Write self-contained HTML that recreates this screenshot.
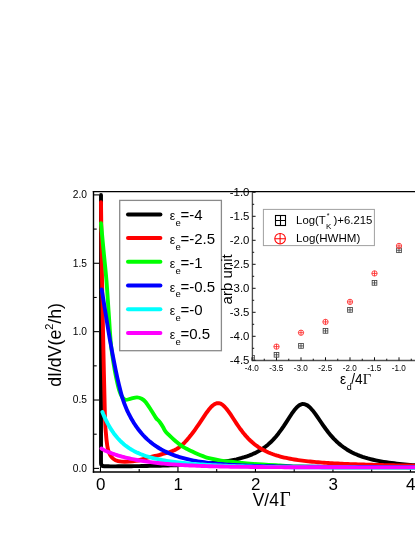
<!DOCTYPE html>
<html><head><meta charset="utf-8"><title>dI/dV</title>
<style>html,body{margin:0;padding:0;background:#fff;}body{width:415px;height:537px;position:relative;overflow:hidden;font-family:"Liberation Sans",sans-serif;}</style>
</head><body>
<svg width="415" height="537" viewBox="0 0 415 537" style="position:absolute;left:0;top:0;transform:translateZ(0);will-change:transform">
<rect x="0" y="0" width="415" height="537" fill="#fff"/>
<g stroke="#000" stroke-width="1.4" fill="none">
<path d="M93.50,190.90 V472.70"/>
<path d="M92.80,191.60 H420"/>
<path d="M92.80,472.00 H420"/>
</g>
<g stroke="#000" stroke-width="1.1" fill="none">
<path d="M93.50,468.40 h5.50"/>
<path d="M93.50,434.21 h3.20"/>
<path d="M93.50,400.02 h5.50"/>
<path d="M93.50,365.84 h3.20"/>
<path d="M93.50,331.65 h5.50"/>
<path d="M93.50,297.46 h3.20"/>
<path d="M93.50,263.27 h5.50"/>
<path d="M93.50,229.09 h3.20"/>
<path d="M93.50,194.90 h5.50"/>
<path d="M100.45,472.00 v-5.00"/>
<path d="M139.20,472.00 v-3.00"/>
<path d="M177.95,472.00 v-5.00"/>
<path d="M216.70,472.00 v-3.00"/>
<path d="M255.45,472.00 v-5.00"/>
<path d="M294.20,472.00 v-3.00"/>
<path d="M332.95,472.00 v-5.00"/>
<path d="M371.70,472.00 v-3.00"/>
<path d="M410.45,472.00 v-5.00"/>
</g>
<g fill="none" stroke-width="3.9" stroke-linecap="round" stroke-linejoin="round">
<path d="M101,195 L101,463.2 Q101,466.2 104.2,466.2 L108.28,466.25 L110.28,466.39 L112.90,466.37 L115.53,466.35 L118.16,466.32 L120.79,466.30 L123.42,466.28 L126.05,466.25 L128.67,466.22 L131.30,466.19 L133.93,466.16 L136.56,466.12 L139.19,466.08 L141.81,466.04 L144.44,466.00 L147.07,465.95 L149.70,465.91 L152.33,465.86 L154.96,465.80 L157.58,465.74 L160.21,465.68 L162.84,465.61 L165.47,465.54 L168.10,465.47 L170.72,465.39 L173.35,465.30 L175.98,465.21 L178.61,465.11 L181.24,465.01 L183.87,464.89 L186.49,464.77 L189.12,464.64 L191.75,464.50 L194.38,464.35 L197.01,464.19 L199.63,464.02 L202.26,463.83 L204.89,463.63 L207.52,463.41 L210.15,463.18 L212.78,462.92 L215.40,462.65 L218.03,462.35 L220.66,462.02 L223.29,461.66 L225.92,461.27 L228.54,460.84 L231.17,460.37 L233.80,459.85 L236.43,459.29 L239.06,458.66 L241.69,457.97 L244.31,457.20 L246.94,456.34 L249.57,455.39 L252.20,454.33 L254.83,453.15 L257.46,451.82 L260.08,450.33 L262.71,448.66 L265.34,446.78 L267.97,444.67 L270.60,442.31 L273.22,439.66 L275.85,436.72 L278.48,433.46 L281.11,429.90 L283.74,426.08 L286.37,422.06 L288.99,417.96 L291.62,413.97 L294.25,410.31 L296.88,407.26 L299.51,405.10 L302.13,404.04 L304.76,404.17 L307.39,405.37 L310.02,407.53 L312.65,410.44 L315.28,413.89 L317.90,417.64 L320.53,421.51 L323.16,425.33 L325.79,429.00 L328.42,432.46 L331.04,435.65 L333.67,438.57 L336.30,441.22 L338.93,443.62 L341.56,445.78 L344.19,447.72 L346.81,449.46 L349.44,451.02 L352.07,452.43 L354.70,453.69 L357.33,454.83 L359.95,455.86 L362.58,456.80 L365.21,457.64 L367.84,458.41 L370.47,459.11 L373.10,459.75 L375.72,460.33 L378.35,460.87 L380.98,461.36 L383.61,461.81 L386.24,462.23 L388.87,462.62 L391.49,462.97 L394.12,463.30 L396.75,463.61 L399.38,463.90 L402.01,464.17 L404.63,464.42 L407.26,464.65 L409.89,464.87 L412.52,465.08 L415.15,465.27 L417.78,465.46 L420.40,465.63 L423.03,465.79 L425.66,465.95" stroke="#000000"/>
<path d="M101.00,202.30 C101.17,214.92 101.60,253.38 102.00,278.00 C102.40,302.62 102.92,327.17 103.40,350.00 C103.88,372.83 104.50,401.33 104.90,415.00 C105.30,428.67 105.40,426.83 105.80,432.00 C106.20,437.17 106.77,442.57 107.30,446.00 C107.83,449.43 108.30,450.77 109.00,452.60 C109.70,454.43 110.42,455.73 111.50,457.00 C112.58,458.27 113.80,459.43 115.50,460.20 C117.20,460.97 119.45,461.37 121.70,461.60 C123.95,461.83 126.62,461.72 129.00,461.60 C131.38,461.48 133.83,461.25 136.00,460.90 C138.17,460.55 140.17,460.02 142.00,459.50 C143.83,458.98 145.39,458.20 147.00,457.75 L147.00,457.75 L148.99,457.36 L150.98,456.94 L152.97,456.49 L154.96,456.02 L156.95,455.53 L158.94,455.02 L160.93,454.50 L162.92,453.97 L164.91,453.44 L166.90,452.88 L168.89,452.28 L170.89,451.62 L172.88,450.85 L174.87,449.94 L176.86,448.84 L178.85,447.53 L180.84,445.99 L182.83,444.24 L184.82,442.27 L186.81,440.12 L188.80,437.80 L190.79,435.34 L192.78,432.75 L194.77,430.04 L196.76,427.23 L198.75,424.32 L200.74,421.34 L202.73,418.33 L204.72,415.34 L206.71,412.47 L208.70,409.80 L210.69,407.43 L212.68,405.50 L214.67,404.08 L216.66,403.28 L218.66,403.14 L220.65,403.68 L222.64,404.89 L224.63,406.68 L226.62,408.96 L228.61,411.60 L230.60,414.48 L232.59,417.50 L234.58,420.56 L236.57,423.58 L238.56,426.50 L240.55,429.30 L242.54,431.93 L244.53,434.40 L246.52,436.69 L248.51,438.81 L250.50,440.76 L252.49,442.55 L254.48,444.19 L256.47,445.70 L258.46,447.08 L260.45,448.34 L262.44,449.50 L264.44,450.57 L266.43,451.54 L268.42,452.44 L270.41,453.27 L272.40,454.03 L274.39,454.73 L276.38,455.38 L278.37,455.98 L280.36,456.53 L282.35,457.05 L284.34,457.53 L286.33,457.97 L288.32,458.39 L290.31,458.77 L292.30,459.13 L294.29,459.47 L296.28,459.79 L298.27,460.09 L300.26,460.36 L302.25,460.63 L304.24,460.87 L306.23,461.11 L308.22,461.33 L310.22,461.53 L312.21,461.73 L314.20,461.91 L316.19,462.09 L318.18,462.26 L320.17,462.41 L322.16,462.57 L324.15,462.71 L326.14,462.84 L328.13,462.97 L330.12,463.10 L332.11,463.22 L334.10,463.33 L336.09,463.44 L338.08,463.54 L340.07,463.64 L342.06,463.73 L344.05,463.83 L346.04,463.91 L348.03,464.00 L350.02,464.08 L352.01,464.15 L354.00,464.23 L356.00,464.30 L357.99,464.37 L359.98,464.44 L361.97,464.50 L363.96,464.56 L365.95,464.62 L367.94,464.68 L369.93,464.74 L371.92,464.79 L373.91,464.85 L375.90,464.90 L377.89,464.95 L379.88,464.99 L381.87,465.04 L383.86,465.09 L385.85,465.13 L387.84,465.17 L389.83,465.21 L391.82,465.25 L393.81,465.29 L395.80,465.33 L397.79,465.37 L399.78,465.41 L401.77,465.44 L403.77,465.48 L405.76,465.51 L407.75,465.54 L409.74,465.57 L411.73,465.61 L413.72,465.64 L415.71,465.67 L417.70,465.70 L419.69,465.72 L421.68,465.75 L423.67,465.78 L425.66,465.81" stroke="#ff0000"/>
<path d="M101.00,223.20 C101.45,228.00 102.80,242.53 103.70,252.00 C104.60,261.47 105.57,269.83 106.40,280.00 C107.23,290.17 107.93,302.17 108.70,313.00 C109.47,323.83 110.00,335.50 111.00,345.00 C112.00,354.50 113.57,363.33 114.70,370.00 C115.83,376.67 116.92,381.25 117.80,385.00 C118.68,388.75 119.25,390.45 120.00,392.50 C120.75,394.55 121.37,396.07 122.30,397.30 C123.23,398.53 124.15,399.68 125.60,399.90 C127.05,400.12 129.10,399.02 131.00,398.60 C132.90,398.18 135.22,397.38 137.00,397.40 C138.78,397.42 140.27,397.93 141.70,398.70 C143.13,399.47 144.05,400.12 145.60,402.00 C147.15,403.88 149.27,407.33 151.00,410.00 C152.73,412.67 154.78,416.28 156.00,418.00 C157.22,419.72 157.63,419.57 158.30,420.30 C158.97,421.03 159.22,421.28 160.00,422.40 C160.78,423.52 162.12,425.55 163.00,427.00 C163.88,428.45 164.37,429.82 165.30,431.10 C166.23,432.38 167.45,433.53 168.60,434.70 C169.75,435.87 170.97,436.97 172.20,438.10 C173.43,439.23 174.78,440.45 176.00,441.50 C177.22,442.55 178.33,443.52 179.50,444.40 C180.67,445.28 181.80,446.07 183.00,446.80 C184.20,447.53 185.37,448.12 186.70,448.80 C188.03,449.48 189.28,450.07 191.00,450.90 C192.72,451.73 195.00,452.92 197.00,453.80 C199.00,454.68 201.00,455.47 203.00,456.20 C205.00,456.93 206.00,457.47 209.00,458.20 C212.00,458.93 216.67,459.95 221.00,460.60 C225.33,461.25 229.67,461.55 235.00,462.10 C240.33,462.65 245.50,463.33 253.00,463.90 C260.50,464.47 272.17,465.07 280.00,465.50 C287.83,465.93 290.00,466.22 300.00,466.50 C310.00,466.78 320.00,467.03 340.00,467.20 C360.00,467.37 406.67,467.45 420.00,467.50" stroke="#00ff00"/>
<path d="M101.70,289.50 C102.42,293.92 104.55,307.17 106.00,316.00 C107.45,324.83 108.78,333.48 110.40,342.50 C112.02,351.52 114.27,363.02 115.70,370.10 C117.13,377.18 117.90,380.42 119.00,385.00 C120.10,389.58 121.05,393.59 122.30,397.60 C123.55,401.61 125.16,405.84 126.51,409.06 L126.51,409.06 L126.71,409.51 L127.08,410.32 L127.56,411.34 L128.12,412.52 L128.77,413.82 L129.48,415.22 L130.25,416.69 L131.08,418.21 L131.96,419.76 L132.89,421.34 L133.87,422.93 L134.90,424.53 L135.97,426.12 L137.08,427.70 L138.23,429.26 L139.43,430.79 L140.66,432.30 L141.92,433.78 L143.22,435.23 L144.56,436.63 L145.93,438.01 L147.34,439.34 L148.77,440.63 L150.24,441.88 L151.74,443.09 L153.27,444.26 L154.82,445.38 L156.41,446.47 L158.03,447.51 L159.67,448.52 L161.34,449.48 L163.04,450.40 L164.77,451.29 L166.52,452.13 L168.30,452.94 L170.10,453.72 L171.93,454.45 L173.79,455.16 L175.66,455.83 L177.57,456.47 L179.49,457.07 L181.44,457.65 L183.42,458.20 L185.41,458.72 L187.43,459.21 L189.48,459.68 L191.54,460.12 L193.63,460.54 L195.74,460.93 L197.86,461.30 L200.02,461.66 L202.19,461.99 L204.38,462.30 L206.60,462.60 L208.83,462.88 L211.09,463.14 L213.36,463.38 L215.66,463.62 L217.97,463.83 L220.31,464.04 L222.66,464.23 L225.04,464.41 L227.43,464.58 L229.84,464.74 L232.27,464.88 L234.72,465.02 L237.19,465.15 L239.68,465.28 L242.19,465.39 L244.71,465.50 L247.25,465.60 L249.81,465.69 L252.39,465.78 L254.99,465.86 L257.60,465.94 L260.23,466.01 L262.88,466.08 L265.54,466.14 L268.22,466.20 L270.92,466.26 L273.64,466.31 L276.37,466.36 L279.12,466.40 L281.89,466.45 L284.67,466.49 L287.47,466.52 L290.29,466.56 L293.12,466.59 L295.97,466.62 L298.83,466.65 L301.71,466.68 L304.61,466.71 L307.52,466.73 L310.45,466.76 L313.39,466.78 L316.35,466.80 L319.32,466.82 L322.31,466.84 L325.31,466.86 L328.33,466.88 L331.37,466.89 L334.42,466.91 L337.48,466.92 L340.56,466.94 L343.66,466.95 L346.77,466.97 L349.89,466.98 L353.03,466.99 L356.18,467.00 L359.35,467.01 L362.54,467.03 L365.73,467.04 L368.94,467.05 L372.17,467.06 L375.41,467.07 L378.66,467.08 L381.93,467.08 L385.21,467.09 L388.51,467.10 L391.82,467.11 L395.14,467.12 L398.48,467.12 L401.83,467.13 L405.19,467.14 L408.57,467.15 L411.96,467.15 L415.36,467.16 L418.78,467.17 L422.21,467.17 L425.66,467.18" stroke="#0000ff"/>
<path d="M102.39,411.97 L102.44,412.08 L102.55,412.35 L102.71,412.76 L102.93,413.29 L103.19,413.93 L103.51,414.67 L103.86,415.49 L104.26,416.40 L104.70,417.39 L105.19,418.44 L105.71,419.55 L106.27,420.70 L106.88,421.90 L107.51,423.14 L108.19,424.40 L108.91,425.69 L109.66,426.99 L110.45,428.30 L111.27,429.61 L112.13,430.92 L113.02,432.23 L113.95,433.52 L114.91,434.80 L115.91,436.07 L116.94,437.31 L118.00,438.52 L119.10,439.71 L120.23,440.87 L121.40,442.00 L122.59,443.10 L123.82,444.16 L125.08,445.19 L126.37,446.19 L127.70,447.15 L129.05,448.07 L130.44,448.96 L131.86,449.81 L133.30,450.63 L134.78,451.42 L136.29,452.17 L137.84,452.89 L139.41,453.58 L141.01,454.24 L142.64,454.86 L144.30,455.46 L145.99,456.04 L147.71,456.58 L149.46,457.10 L151.24,457.60 L153.05,458.07 L154.89,458.52 L156.76,458.95 L158.66,459.36 L160.58,459.75 L162.53,460.12 L164.52,460.48 L166.53,460.82 L168.57,461.14 L170.64,461.45 L172.73,461.75 L174.86,462.03 L177.01,462.30 L179.19,462.55 L181.40,462.80 L183.63,463.03 L185.90,463.26 L188.19,463.47 L190.51,463.68 L192.85,463.87 L195.23,464.06 L197.63,464.24 L200.05,464.41 L202.51,464.57 L204.99,464.73 L207.50,464.88 L210.04,465.02 L212.60,465.16 L215.19,465.29 L217.81,465.42 L220.45,465.54 L223.12,465.65 L225.81,465.76 L228.54,465.86 L231.29,465.96 L234.06,466.06 L236.86,466.15 L239.69,466.23 L242.54,466.32 L245.42,466.39 L248.33,466.47 L251.26,466.54 L254.22,466.61 L257.20,466.67 L260.21,466.73 L263.25,466.79 L266.31,466.84 L269.39,466.90 L272.51,466.95 L275.64,466.99 L278.81,467.04 L281.99,467.08 L285.21,467.12 L288.45,467.16 L291.71,467.19 L295.00,467.22 L298.31,467.26 L301.65,467.29 L305.02,467.31 L308.41,467.34 L311.82,467.37 L315.26,467.39 L318.73,467.41 L322.21,467.43 L325.73,467.45 L329.27,467.47 L332.83,467.49 L336.42,467.50 L340.03,467.52 L343.67,467.53 L347.33,467.55 L351.02,467.56 L354.73,467.57 L358.46,467.58 L362.22,467.59 L366.01,467.60 L369.82,467.61 L373.65,467.62 L377.50,467.63 L381.39,467.64 L385.29,467.64 L389.22,467.65 L393.17,467.66 L397.15,467.66 L401.15,467.67 L405.18,467.67 L409.23,467.68 L413.30,467.68 L417.39,467.68 L421.52,467.69 L425.66,467.69" stroke="#00ffff"/>
<path d="M101.46,448.50 L101.51,448.53 L101.62,448.60 L101.78,448.71 L102.00,448.84 L102.27,449.01 L102.58,449.19 L102.94,449.40 L103.34,449.63 L103.78,449.87 L104.27,450.13 L104.79,450.40 L105.36,450.68 L105.96,450.97 L106.60,451.27 L107.28,451.57 L108.00,451.88 L108.75,452.20 L109.54,452.52 L110.37,452.85 L111.23,453.18 L112.12,453.51 L113.06,453.84 L114.02,454.18 L115.02,454.52 L116.05,454.86 L117.12,455.19 L118.22,455.53 L119.36,455.87 L120.52,456.21 L121.72,456.55 L122.95,456.88 L124.22,457.21 L125.51,457.54 L126.84,457.87 L128.20,458.19 L129.59,458.51 L131.01,458.83 L132.47,459.14 L133.95,459.44 L135.46,459.74 L137.01,460.03 L138.59,460.32 L140.19,460.60 L141.83,460.88 L143.49,461.15 L145.19,461.41 L146.92,461.66 L148.67,461.91 L150.46,462.15 L152.27,462.39 L154.11,462.62 L155.99,462.84 L157.89,463.05 L159.82,463.26 L161.78,463.46 L163.77,463.65 L165.78,463.83 L167.83,464.01 L169.90,464.19 L172.01,464.35 L174.14,464.51 L176.29,464.66 L178.48,464.81 L180.70,464.95 L182.94,465.08 L185.21,465.21 L187.51,465.33 L189.83,465.45 L192.18,465.56 L194.56,465.66 L196.97,465.76 L199.41,465.86 L201.87,465.95 L204.36,466.04 L206.88,466.12 L209.42,466.20 L211.99,466.27 L214.59,466.34 L217.21,466.41 L219.86,466.47 L222.54,466.53 L225.24,466.58 L227.97,466.63 L230.73,466.68 L233.51,466.73 L236.32,466.77 L239.16,466.81 L242.02,466.85 L244.91,466.89 L247.82,466.92 L250.76,466.95 L253.73,466.98 L256.72,467.01 L259.74,467.04 L262.78,467.06 L265.85,467.08 L268.95,467.10 L272.07,467.12 L275.21,467.14 L278.38,467.16 L281.58,467.17 L284.80,467.19 L288.05,467.20 L291.33,467.21 L294.62,467.23 L297.95,467.24 L301.30,467.25 L304.67,467.26 L308.07,467.26 L311.50,467.27 L314.94,467.28 L318.42,467.29 L321.92,467.29 L325.44,467.30 L328.99,467.30 L332.56,467.31 L336.16,467.31 L339.79,467.32 L343.43,467.32 L347.11,467.32 L350.80,467.33 L354.52,467.33 L358.27,467.33 L362.04,467.34 L365.84,467.34 L369.65,467.34 L373.50,467.34 L377.37,467.34 L381.26,467.34 L385.17,467.35 L389.11,467.35 L393.08,467.35 L397.07,467.35 L401.08,467.35 L405.12,467.35 L409.18,467.35 L413.26,467.35 L417.37,467.35 L421.50,467.35 L425.66,467.35" stroke="#ff00ff"/>
</g>
<rect x="119.7" y="200.4" width="101.7" height="150.3" fill="#fff" stroke="#8a8a8a" stroke-width="1.3"/>
<g stroke-width="4.0" stroke-linecap="round">
<path d="M128,214.40 H160.4" stroke="#000000"/>
<path d="M128,238.12 H160.4" stroke="#ff0000"/>
<path d="M128,261.84 H160.4" stroke="#00ff00"/>
<path d="M128,285.56 H160.4" stroke="#0000ff"/>
<path d="M128,309.28 H160.4" stroke="#00ffff"/>
<path d="M128,333.00 H160.4" stroke="#ff00ff"/>
</g>
<g font-family="Liberation Sans, sans-serif" font-size="15px" fill="#000">
<text x="169.8" y="220.40"><tspan font-size="12.3px">ε</tspan><tspan font-size="9.5px" dy="5.7" dx="0.1">e</tspan><tspan dy="-5.7" dx="-0.2">=-4</tspan></text>
<text x="169.8" y="244.10"><tspan font-size="12.3px">ε</tspan><tspan font-size="9.5px" dy="5.7" dx="0.1">e</tspan><tspan dy="-5.7" dx="-0.2">=-2.5</tspan></text>
<text x="169.8" y="267.80"><tspan font-size="12.3px">ε</tspan><tspan font-size="9.5px" dy="5.7" dx="0.1">e</tspan><tspan dy="-5.7" dx="-0.2">=-1</tspan></text>
<text x="169.8" y="291.50"><tspan font-size="12.3px">ε</tspan><tspan font-size="9.5px" dy="5.7" dx="0.1">e</tspan><tspan dy="-5.7" dx="-0.2">=-0.5</tspan></text>
<text x="169.8" y="315.20"><tspan font-size="12.3px">ε</tspan><tspan font-size="9.5px" dy="5.7" dx="0.1">e</tspan><tspan dy="-5.7" dx="-0.2">=-0</tspan></text>
<text x="169.8" y="338.90"><tspan font-size="12.3px">ε</tspan><tspan font-size="9.5px" dy="5.7" dx="0.1">e</tspan><tspan dy="-5.7" dx="-0.2">=0.5</tspan></text>
</g>
<g font-family="Liberation Sans, sans-serif" font-size="11px" fill="#000" text-anchor="end">
<text transform="translate(87.0,471.80) scale(0.93,1)">0.0</text>
<text transform="translate(87.0,403.42) scale(0.93,1)">0.5</text>
<text transform="translate(87.0,335.05) scale(0.93,1)">1.0</text>
<text transform="translate(87.0,266.67) scale(0.93,1)">1.5</text>
<text transform="translate(87.0,198.30) scale(0.93,1)">2.0</text>
</g>
<g font-family="Liberation Sans, sans-serif" font-size="17.3px" fill="#000" text-anchor="middle">
<text transform="translate(100.75,490.4) scale(0.98,1)">0</text>
<text transform="translate(178.25,490.4) scale(0.98,1)">1</text>
<text transform="translate(255.75,490.4) scale(0.98,1)">2</text>
<text transform="translate(333.25,490.4) scale(0.98,1)">3</text>
<text transform="translate(410.75,490.4) scale(0.98,1)">4</text>
</g>
<text transform="translate(252.7,506) scale(0.97,1)" font-family="Liberation Sans, sans-serif" font-size="18px" fill="#000">V/4<tspan font-family="Liberation Serif, serif" font-size="20px" dx="0.6">Γ</tspan></text>
<text transform="translate(60.5,386.8) rotate(-90)" font-family="Liberation Sans, sans-serif" font-size="17.7px" fill="#000">dI/dV(e<tspan font-size="11px" dy="-8">2</tspan><tspan dy="8">/h)</tspan></text>
<g stroke="#505050" stroke-width="1.35" fill="none">
<path d="M252.40,192.20 V361.10"/>
<path d="M251.80,360.50 H420"/>
</g>
<g stroke="#111" stroke-width="1.0" fill="none">
<path d="M252.40,192.30 h3.20"/>
<path d="M252.40,204.30 h1.80"/>
<path d="M252.40,216.30 h3.20"/>
<path d="M252.40,228.30 h1.80"/>
<path d="M252.40,240.30 h3.20"/>
<path d="M252.40,252.30 h1.80"/>
<path d="M252.40,264.30 h3.20"/>
<path d="M252.40,276.30 h1.80"/>
<path d="M252.40,288.30 h3.20"/>
<path d="M252.40,300.30 h1.80"/>
<path d="M252.40,312.30 h3.20"/>
<path d="M252.40,324.30 h1.80"/>
<path d="M252.40,336.30 h3.20"/>
<path d="M252.40,348.30 h1.80"/>
<path d="M252.40,360.30 h3.20"/>
<path d="M252.00,360.50 v-3.20"/>
<path d="M264.25,360.50 v-1.80"/>
<path d="M276.50,360.50 v-3.20"/>
<path d="M288.75,360.50 v-1.80"/>
<path d="M301.00,360.50 v-3.20"/>
<path d="M313.25,360.50 v-1.80"/>
<path d="M325.50,360.50 v-3.20"/>
<path d="M337.75,360.50 v-1.80"/>
<path d="M350.00,360.50 v-3.20"/>
<path d="M362.25,360.50 v-1.80"/>
<path d="M374.50,360.50 v-3.20"/>
<path d="M386.75,360.50 v-1.80"/>
<path d="M399.00,360.50 v-3.20"/>
<path d="M411.25,360.50 v-1.80"/>
</g>
<g font-family="Liberation Sans, sans-serif" font-size="11.4px" fill="#000" text-anchor="end">
<text x="249.4" y="195.55">-1.0</text>
<text x="249.4" y="219.55">-1.5</text>
<text x="249.4" y="243.55">-2.0</text>
<text x="249.4" y="267.55">-2.5</text>
<text x="249.4" y="291.55">-3.0</text>
<text x="249.4" y="315.55">-3.5</text>
<text x="249.4" y="339.55">-4.0</text>
<text x="249.4" y="363.55">-4.5</text>
</g>
<g font-family="Liberation Sans, sans-serif" font-size="9.8px" fill="#000" text-anchor="middle">
<text transform="translate(251.80,370.5) scale(0.83,1)">-4.0</text>
<text transform="translate(276.30,370.5) scale(0.83,1)">-3.5</text>
<text transform="translate(300.80,370.5) scale(0.83,1)">-3.0</text>
<text transform="translate(325.30,370.5) scale(0.83,1)">-2.5</text>
<text transform="translate(349.80,370.5) scale(0.83,1)">-2.0</text>
<text transform="translate(374.30,370.5) scale(0.83,1)">-1.5</text>
<text transform="translate(398.80,370.5) scale(0.83,1)">-1.0</text>
</g>
<text transform="translate(232.2,304.4) rotate(-90)" font-family="Liberation Sans, sans-serif" font-size="15px" fill="#000">arb unit</text>
<text transform="translate(340.0,383.6) scale(0.94,1)" font-family="Liberation Sans, sans-serif" font-size="14.6px" fill="#000">ε<tspan font-size="9.5px" dy="6" dx="0.6">d</tspan><tspan dy="-6" dx="-0.4">/4</tspan><tspan font-family="Liberation Serif, serif" font-size="15.5px">Γ</tspan></text>
<clipPath id="ic"><rect x="252.40" y="180" width="200" height="180.50"/></clipPath>
<g clip-path="url(#ic)">
<g stroke="#383838" stroke-width="0.80" fill="none"><rect x="249.65" y="355.55" width="4.70" height="4.70"/><path d="M249.65,357.90 h4.70 M252.00,355.55 v4.70"/></g>
<g stroke="#383838" stroke-width="0.80" fill="none"><rect x="274.15" y="352.43" width="4.70" height="4.70"/><path d="M274.15,354.78 h4.70 M276.50,352.43 v4.70"/></g>
<g stroke="#383838" stroke-width="0.80" fill="none"><rect x="298.65" y="343.55" width="4.70" height="4.70"/><path d="M298.65,345.90 h4.70 M301.00,343.55 v4.70"/></g>
<g stroke="#383838" stroke-width="0.80" fill="none"><rect x="323.15" y="328.53" width="4.70" height="4.70"/><path d="M323.15,330.88 h4.70 M325.50,328.53 v4.70"/></g>
<g stroke="#383838" stroke-width="0.80" fill="none"><rect x="347.65" y="307.55" width="4.70" height="4.70"/><path d="M347.65,309.90 h4.70 M350.00,307.55 v4.70"/></g>
<g stroke="#383838" stroke-width="0.80" fill="none"><rect x="372.15" y="280.53" width="4.70" height="4.70"/><path d="M372.15,282.88 h4.70 M374.50,280.53 v4.70"/></g>
<g stroke="#383838" stroke-width="0.80" fill="none"><rect x="396.65" y="247.93" width="4.70" height="4.70"/><path d="M396.65,250.28 h4.70 M399.00,247.93 v4.70"/></g>
<g stroke="#ff2828" stroke-width="0.85" fill="none"><circle cx="276.50" cy="346.62" r="2.65"/><path d="M273.85,346.62 h5.30 M276.50,343.97 v5.30"/></g>
<g stroke="#ff2828" stroke-width="0.85" fill="none"><circle cx="301.00" cy="332.70" r="2.65"/><path d="M298.35,332.70 h5.30 M301.00,330.05 v5.30"/></g>
<g stroke="#ff2828" stroke-width="0.85" fill="none"><circle cx="325.50" cy="321.90" r="2.65"/><path d="M322.85,321.90 h5.30 M325.50,319.25 v5.30"/></g>
<g stroke="#ff2828" stroke-width="0.85" fill="none"><circle cx="350.00" cy="301.88" r="2.65"/><path d="M347.35,301.88 h5.30 M350.00,299.23 v5.30"/></g>
<g stroke="#ff2828" stroke-width="0.85" fill="none"><circle cx="374.50" cy="273.42" r="2.65"/><path d="M371.85,273.42 h5.30 M374.50,270.77 v5.30"/></g>
<g stroke="#ff2828" stroke-width="0.85" fill="none"><circle cx="399.00" cy="245.92" r="2.65"/><path d="M396.35,245.92 h5.30 M399.00,243.27 v5.30"/></g>
</g>
<rect x="263.4" y="209.4" width="111" height="36.2" fill="#fff" stroke="#a0a0a0" stroke-width="1"/>
<g stroke="#000" stroke-width="1.10" fill="none"><rect x="275.50" y="215.50" width="10.00" height="10.00"/><path d="M275.50,220.50 h10.00 M280.50,215.50 v10.00"/></g>
<g stroke="#ff0000" stroke-width="1.05" fill="none"><circle cx="280.10" cy="238.70" r="5.30"/><path d="M274.80,238.70 h10.60 M280.10,233.40 v10.60"/></g>
<g font-family="Liberation Sans, sans-serif" font-size="11.35px" fill="#000">
<text x="296.1" y="224.4">Log(T<tspan font-size="8px" dy="4.2" dx="0.3">K</tspan><tspan font-size="7px" dy="-10.5" dx="-4.6">*</tspan><tspan dy="6.3" dx="0.9"> )+6.215</tspan></text>
<text x="296.1" y="242.1" font-size="11.55px">Log(HWHM)</text>
</g>
</svg>
</body></html>
